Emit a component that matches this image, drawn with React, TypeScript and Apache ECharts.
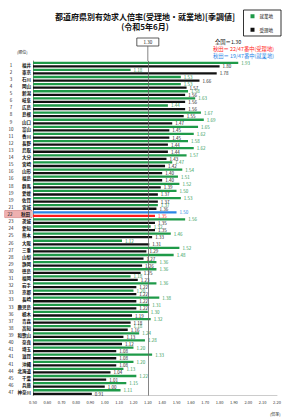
import React, { useEffect, useRef } from "react";
import * as echarts from "echarts";

const prefectures = [
  "福井", "東京", "石川", "岡山", "新潟", "岐阜", "広島", "島根", "山口", "富山",
  "香川", "長野", "鳥取", "大分", "宮崎", "山形", "福島", "群馬", "愛媛", "佐賀",
  "宮城", "秋田", "茨城", "愛知", "熊本", "大阪", "三重", "山梨", "静岡", "徳島",
  "福岡", "岩手", "京都", "長崎", "鹿児島", "栃木", "青森", "高知", "和歌山", "奈良",
  "埼玉", "滋賀", "沖縄", "北海道", "千葉", "兵庫", "神奈川",
];
const ranks = [
  1, 2, 3, 4, 5, 6, 7, 8, 9, 10,
  11, 12, 13, 14, 15, 16, 16, 18, 19, 19,
  21, 22, 23, 24, 25, 26, 27, 28, 29, 30,
  31, 32, 33, 33, 33, 36, 37, 38, 39, 40,
  41, 41, 41, 44, 45, 46, 47,
];
// 就業地 (green)
const workplaceRatio = [
  1.93, 1.18, 1.53, 1.53, 1.58, 1.63, 1.44, 1.67, 1.69, 1.65,
  1.62, 1.58, 1.62, 1.57, 1.47, 1.54, 1.51, 1.52, 1.50, 1.53,
  1.37, 1.50, 1.56, 1.32, 1.46, 1.12, 1.52, 1.48, 1.36, 1.36,
  1.18, 1.36, 1.20, 1.38, 1.31, 1.30, 1.32, 1.18, 1.24, 1.28,
  1.20, 1.33, 1.20, 1.13, 1.22, 1.15, 1.11,
];
// 受理地 (black)
const receiptRatio = [
  1.80, 1.78, 1.66, 1.57, 1.56, 1.56, 1.56, 1.55, 1.47, 1.45,
  1.45, 1.44, 1.44, 1.43, 1.42, 1.40, 1.40, 1.39, 1.37, 1.37,
  1.36, 1.35, 1.35, 1.35, 1.33, 1.31, 1.29, 1.27, 1.26, 1.25,
  1.23, 1.22, 1.22, 1.22, 1.22, 1.19, 1.18, 1.16, 1.13, 1.12,
  1.08, 1.08, 1.08, 1.04, 1.01, 1.00, 0.91,
];
const nationalAvg = 1.3;
const highlightPref = "秋田";
const xMin = 0.5;
const xMax = 2.2;
const xInterval = 0.1;

const FONT = "'Noto Sans CJK JP', 'Noto Sans', sans-serif";
const GREEN = "#1e9a48";
const BLACK = "#111111";
const BLUE = "#2a86e6";
const RED = "#ff1a1a";

export default function App() {
  const ref = useRef<HTMLDivElement>(null);
  useEffect(() => {
    const chart = echarts.init(ref.current!, null, { renderer: "svg" });
    const hi = prefectures.indexOf(highlightPref);
    const greenData = workplaceRatio.map((v, i) =>
      i === hi ? { value: v, itemStyle: { color: BLUE }, label: { color: BLUE } } : v
    );
    const blackData = receiptRatio.map((v, i) =>
      i === hi ? { value: v, itemStyle: { color: RED }, label: { color: RED } } : v
    );
    const option: any = {
      animation: false,
      textStyle: { fontFamily: FONT },
      title: {
        text: "都道府県別有効求人倍率(受理地・就業地)[季調値]\n(令和5年6月)",
        left: 140,
        textAlign: "center",
        top: 6,
        textStyle: { fontSize: 8, fontWeight: "bold", color: "#111", lineHeight: 10.5, fontFamily: FONT },
      },
      legend: {
        right: 9,
        top: 10,
        orient: "vertical",
        borderColor: "#000",
        borderWidth: 0.8,
        padding: [4, 8, 4, 7],
        itemWidth: 4,
        itemHeight: 4,
        itemGap: 9,
        icon: "rect",
        textStyle: { fontSize: 4.5, color: "#111", fontFamily: FONT },
        data: ["就業地", "受理地"],
      },
      grid: { left: 33, right: 13, top: 61, bottom: 24.4 },
      xAxis: {
        type: "value",
        min: xMin,
        max: xMax,
        interval: xInterval,
        axisLine: { show: true, lineStyle: { color: "#999", width: 0.5 } },
        axisTick: { show: false },
        splitLine: { show: false },
        axisLabel: {
          fontSize: 4,
          color: "#333",
          margin: 4,
          formatter: (v: number) => v.toFixed(2),
        },
      },
      yAxis: {
        type: "category",
        inverse: true,
        data: prefectures,
        axisLine: { show: true, lineStyle: { color: "#333", width: 0.6 } },
        axisTick: { show: false },
        axisLabel: {
          margin: 2,
          interval: 0,
          formatter: (value: string, index: number) =>
            index === hi
              ? `{hr|${ranks[index]}}{hn|${value}}`
              : `{r|${ranks[index]}}{n|${value}}`,
          rich: {
            r: { width: 12, align: "center", fontSize: 4.5, color: "#222", fontFamily: FONT },
            n: { width: 14, align: "right", fontSize: 4.5, color: "#111", fontWeight: "bold", fontFamily: FONT },
            hr: { width: 12, height: 7, lineHeight: 7, align: "center", fontSize: 4.5, color: "#222", backgroundColor: "#eeb0b0", fontFamily: FONT },
            hn: { width: 14, height: 7, lineHeight: 7, align: "right", fontSize: 4.5, color: "#111", fontWeight: "bold", backgroundColor: "#eeb0b0", padding: [0, 1, 0, 0], fontFamily: FONT },
          },
        },
      },
      series: [
        {
          name: "就業地",
          type: "bar",
          data: greenData,
          barWidth: 2.3,
          barGap: "55%",
          itemStyle: { color: GREEN },
          label: {
            show: true,
            position: "right",
            distance: 3,
            fontSize: 4.5,
            color: "#2f9a55",
            fontFamily: FONT,
            formatter: (p: any) => Number(p.value).toFixed(2),
          },
          markLine: {
            silent: true,
            symbol: "none",
            label: { show: false },
            lineStyle: { color: "#666", width: 0.8, type: "solid" },
            data: [{ xAxis: nationalAvg }],
          },
        },
        {
          name: "受理地",
          type: "bar",
          data: blackData,
          barWidth: 2.3,
          itemStyle: { color: BLACK },
          label: {
            show: true,
            position: "right",
            distance: 3,
            fontSize: 4.5,
            color: "#222",
            fontFamily: FONT,
            formatter: (p: any) => Number(p.value).toFixed(2),
          },
        },
      ],
    };
    chart.setOption(option);
    const xAvg = chart.convertToPixel({ xAxisIndex: 0 }, nationalAvg) as number;
    const yHi = chart.convertToPixel({ yAxisIndex: 0 }, highlightPref) as number;
    chart.setOption({
      graphic: [
        {
          type: "rect",
          shape: { x: xAvg - 11, y: 38, width: 22, height: 8 },
          style: { fill: "#fff", stroke: "#333", lineWidth: 0.8 },
        },
        {
          type: "text",
          x: xAvg,
          y: 42,
          style: { text: nationalAvg.toFixed(2), fontSize: 4.5, fill: "#111", align: "center", verticalAlign: "middle", fontFamily: FONT },
        },
        {
          type: "line",
          shape: { x1: xAvg, y1: 46, x2: xAvg, y2: 61 },
          style: { stroke: "#666", lineWidth: 0.8 },
        },
        {
          type: "rect",
          shape: { x: 5, y: yHi - 3.5, width: 27, height: 7 },
          style: { fill: "none", stroke: "#b04040", lineWidth: 0.6 },
        },
        {
          type: "text",
          x: 215,
          y: 42,
          style: { text: `全国＝${nationalAvg.toFixed(2)}`, fontSize: 5.3, fill: "#111", verticalAlign: "middle", fontFamily: FONT },
        },
        {
          type: "text",
          x: 213,
          y: 49,
          style: { text: `${highlightPref}＝ 22/47番中(受理地)`, fontSize: 5.3, fill: RED, verticalAlign: "middle", fontFamily: FONT },
        },
        {
          type: "text",
          x: 213,
          y: 56,
          style: { text: `${highlightPref}＝ 19/47番中(就業地)`, fontSize: 5.3, fill: BLUE, verticalAlign: "middle", fontFamily: FONT },
        },
        {
          type: "text",
          x: 17,
          y: 52,
          style: { text: "(順位)", fontSize: 4, fill: "#222", verticalAlign: "middle", fontFamily: FONT },
        },
        {
          type: "text",
          x: 270,
          y: 414,
          style: { text: "(倍率)", fontSize: 4, fill: "#222", verticalAlign: "middle", fontFamily: FONT },
        },
      ],
    });
    return () => chart.dispose();
  }, []);
  return <div ref={ref} style={{ position: "fixed", left: 0, top: 0, width: 290, height: 420, background: "#fff" }} />;
}
